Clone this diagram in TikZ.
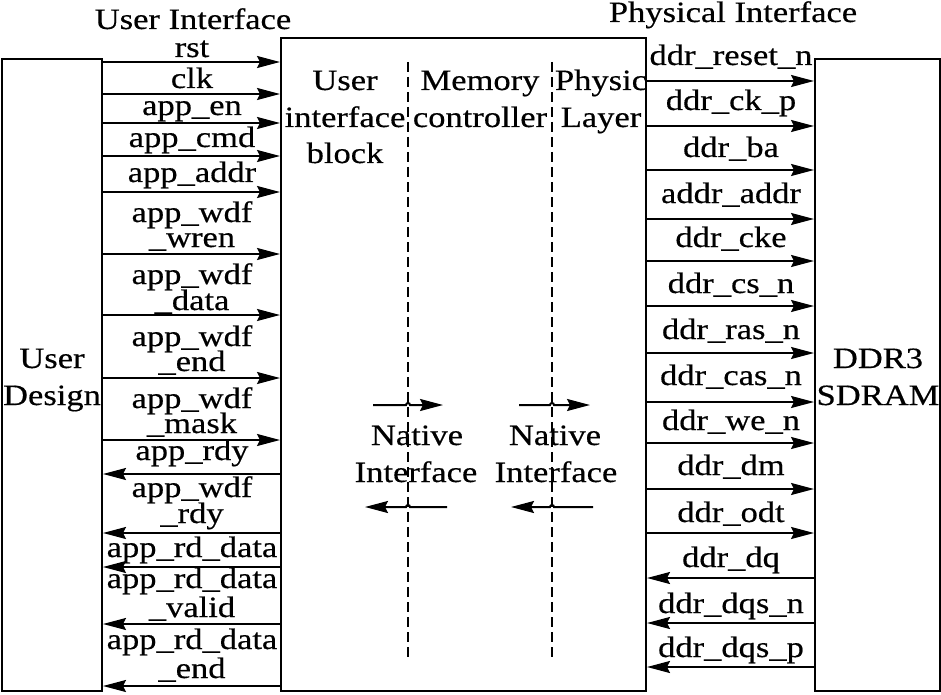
\documentclass[tikz,border=0pt]{standalone}
\usepackage{fontspec}
\setmainfont{Liberation Serif}[FakeStretch=1.17,FakeBold=0.4]
\usetikzlibrary{arrows.meta}
\begin{document}
\begin{tikzpicture}[x=1pt,y=-1pt,
  box/.style={draw,line width=2pt,inner sep=0pt},
  sig/.style={line width=2pt,-{Stealth[length=23pt,width=12pt,inset=3pt]}},
  lbl/.style={anchor=base,inner sep=0pt,font=\fontsize{29.5}{37}\selectfont},
  divider/.style={line width=1.3pt,dash pattern=on 10pt off 5pt}]
\useasboundingbox (0,0) rectangle (941,695);
% boxes
\node[box,minimum width=100pt,minimum height=632pt] (ud) at (52,375) {};
\node[box,minimum width=365pt,minimum height=653pt] (mc) at (463.5,364.5) {};
\node[box,minimum width=125pt,minimum height=632pt] (ddr) at (877.5,375) {};
% box texts
\node[lbl] (udA) at (52,368) {User};
\node[lbl] (udB) at (52,405) {Design};
\node[lbl] (ddA) at (878,368) {DDR3};
\node[lbl] (ddB) at (878,405) {SDRAM};
\node[lbl] (uiA) at (345,90) {User};
\node[lbl] (uiB) at (345,127) {interface};
\node[lbl] (uiC) at (345,163) {block};
\node[lbl] (mcA) at (480,90) {Memory};
\node[lbl] (mcB) at (480,127) {controller};
\node[lbl] (plA) at (601,90) {Physic};
\node[lbl] (plB) at (601,127) {Layer};
\node[lbl] (niA) at (417,445) {Native};
\node[lbl] (niB) at (416,482) {Interface};
\node[lbl] (njA) at (555,445) {Native};
\node[lbl] (njB) at (556,482) {Interface};
% titles
\node[lbl] (tUI) at (193,29) {User Interface};
\node[lbl] (tPI) at (733,22) {Physical Interface};
% dashed dividers
\coordinate (d1t) at (408,62); \coordinate (d1b) at (408,660);
\coordinate (d2t) at (552,62); \coordinate (d2b) at (552,660);
\draw[divider] (d1t) -- (d1b);
\draw[divider] (d2t) -- (d2b);
% native interface arrows
\coordinate (na1) at (373,405); \coordinate (nb1) at (443,405);
\coordinate (nc1) at (447,507); \coordinate (nd1) at (365,507);
\coordinate (na2) at (519,405); \coordinate (nb2) at (590,405);
\coordinate (nc2) at (593,507); \coordinate (nd2) at (511,507);
\draw[sig] (na1) -- (406,405) arc[start angle=180,end angle=360,radius=2] -- (nb1);
\draw[sig] (nc1) -- (410,507) arc[start angle=0,end angle=-180,radius=2] -- (nd1);
\draw[sig] (na2) -- (550,405) arc[start angle=180,end angle=360,radius=2] -- (nb2);
\draw[sig] (nc2) -- (554,507) arc[start angle=0,end angle=-180,radius=2] -- (nd2);
% left signals
\foreach \y in {62,94,123,156,192,254,315,378,440}
  \draw[sig] (ud.east |- 0,\y) -- (mc.west |- 0,\y);
\foreach \y in {474,533,567,624,686}
  \draw[sig] (mc.west |- 0,\y) -- (ud.east |- 0,\y);
% right signals
\foreach \y in {81,126,170,219,261,306,353,402,443,489,533}
  \draw[sig] (mc.east |- 0,\y) -- (ddr.west |- 0,\y);
\foreach \y in {578,623,667}
  \draw[sig] (ddr.west |- 0,\y) -- (mc.east |- 0,\y);
% left labels
\node[lbl] (l1) at (192,57) {rst};
\node[lbl] (l2) at (192,88) {clk};
\node[lbl] (l3) at (192,115) {app\_en};
\node[lbl] (l4) at (192,147) {app\_cmd};
\node[lbl] (l5) at (192,182) {app\_addr};
\node[lbl] (l6a) at (192,222) {app\_wdf};
\node[lbl] (l6b) at (192,247) {\_wren};
\node[lbl] (l7a) at (192,284) {app\_wdf};
\node[lbl] (l7b) at (192,310) {\_data};
\node[lbl] (l8a) at (192,346) {app\_wdf};
\node[lbl] (l8b) at (192,371) {\_end};
\node[lbl] (l9a) at (192,408) {app\_wdf};
\node[lbl] (l9b) at (192,433) {\_mask};
\node[lbl] (l10) at (192,460) {app\_rdy};
\node[lbl] (l11a) at (192,497) {app\_wdf};
\node[lbl] (l11b) at (192,523) {\_rdy};
\node[lbl] (l12) at (192,557) {app\_rd\_data};
\node[lbl] (l13a) at (192,588) {app\_rd\_data};
\node[lbl] (l13b) at (192,617) {\_valid};
\node[lbl] (l14a) at (192,649) {app\_rd\_data};
\node[lbl] (l14b) at (192,678) {\_end};
% right labels
\node[lbl] (r1) at (731,65) {ddr\_reset\_n};
\node[lbl] (r2) at (731,110) {ddr\_ck\_p};
\node[lbl] (r3) at (731,157) {ddr\_ba};
\node[lbl] (r4) at (731,203) {addr\_addr};
\node[lbl] (r5) at (731,247) {ddr\_cke};
\node[lbl] (r6) at (731,293) {ddr\_cs\_n};
\node[lbl] (r7) at (731,339) {ddr\_ras\_n};
\node[lbl] (r8) at (731,385) {ddr\_cas\_n};
\node[lbl] (r9) at (731,430) {ddr\_we\_n};
\node[lbl] (r10) at (731,475) {ddr\_dm};
\node[lbl] (r11) at (731,522) {ddr\_odt};
\node[lbl] (r12) at (731,567) {ddr\_dq};
\node[lbl] (r13) at (731,613) {ddr\_dqs\_n};
\node[lbl] (r14) at (731,657) {ddr\_dqs\_p};
\end{tikzpicture}
\end{document}
